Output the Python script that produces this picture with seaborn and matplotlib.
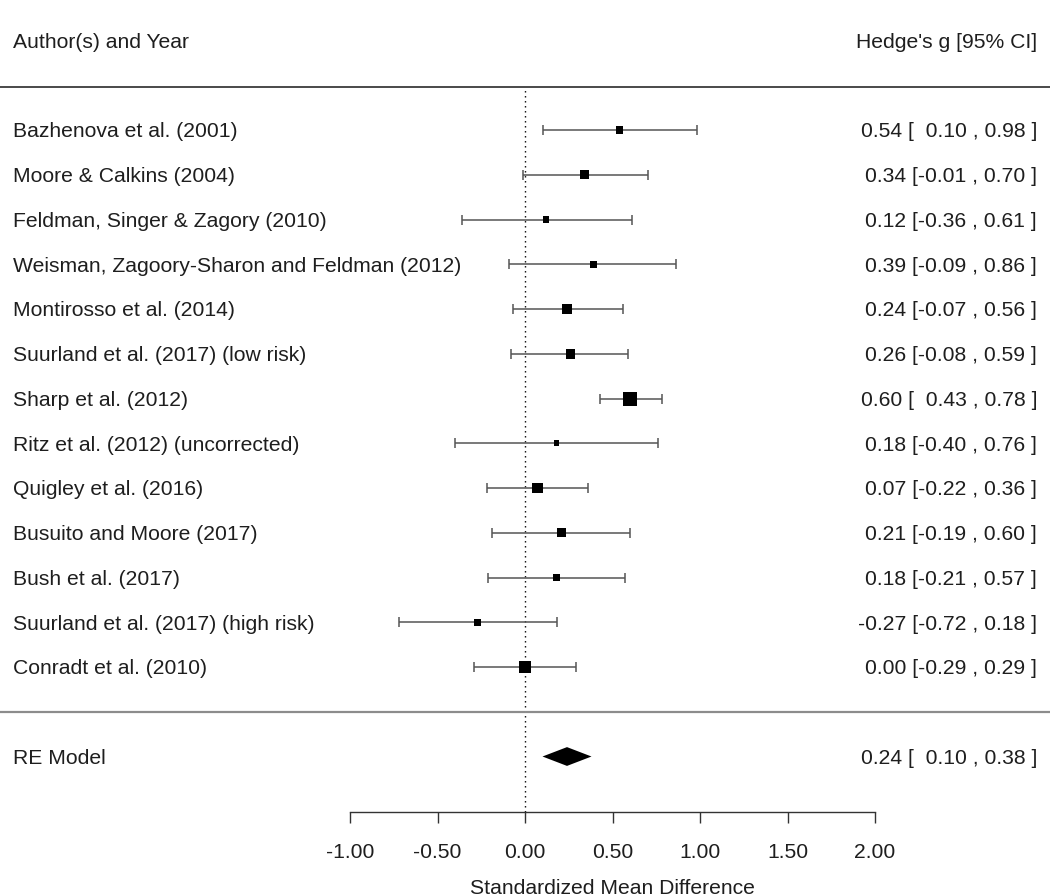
import matplotlib
matplotlib.use("Agg")
import matplotlib.pyplot as plt
import seaborn as sns
import numpy as np
import pandas as pd

# ---------------- data ----------------
studies = [
    "Bazhenova et al. (2001)",
    "Moore & Calkins (2004)",
    "Feldman, Singer & Zagory (2010)",
    "Weisman, Zagoory-Sharon and Feldman (2012)",
    "Montirosso et al. (2014)",
    "Suurland et al. (2017) (low risk)",
    "Sharp et al. (2012)",
    "Ritz et al. (2012) (uncorrected)",
    "Quigley et al. (2016)",
    "Busuito and Moore (2017)",
    "Bush et al. (2017)",
    "Suurland et al. (2017) (high risk)",
    "Conradt et al. (2010)",
]
yi = [0.54, 0.34, 0.12, 0.39, 0.24, 0.26, 0.60, 0.18, 0.07, 0.21, 0.18, -0.27, 0.00]
ci_lo = [0.10, -0.01, -0.36, -0.09, -0.07, -0.08, 0.43, -0.40, -0.22, -0.19, -0.21, -0.72, -0.29]
ci_hi = [0.98, 0.70, 0.61, 0.86, 0.56, 0.59, 0.78, 0.76, 0.36, 0.60, 0.57, 0.18, 0.29]
weights = [49, 64, 36, 36, 100, 81, 169, 25, 100, 64, 49, 36, 121]

re_label = "RE Model"
re_est, re_lo, re_hi = 0.24, 0.10, 0.38

xticks = [-1.0, -0.5, 0.0, 0.5, 1.0, 1.5, 2.0]
xtick_labels = ["-1.00", "-0.50", "0.00", "0.50", "1.00", "1.50", "2.00"]
header_left = "Author(s) and Year"
header_right = "Hedge's g [95% CI]"
xlabel = "Standardized Mean Difference"

# ---------------- style ----------------
sns.set_theme(style="white")
plt.rcParams["font.family"] = ["Liberation Sans", "DejaVu Sans"]
FS = 15.2
TXT = "#1e1e1e"

k = len(studies)
rows = np.arange(k, 0, -1)
df = pd.DataFrame({"study": studies, "yi": yi, "lo": ci_lo, "hi": ci_hi,
                   "w": weights, "row": rows})

fig = plt.figure(figsize=(10.5, 8.96), dpi=100)
ax = fig.add_axes([0, 0, 1, 1])
ax.set_xlim(-3.0, 3.0)
ax.set_ylim(-4.117, 15.905)

# confidence intervals
ax.errorbar(df["yi"], df["row"],
            xerr=[df["yi"] - df["lo"], df["hi"] - df["yi"]],
            fmt="none", ecolor="#555555", elinewidth=1.1, capsize=3.9,
            capthick=1.1, zorder=2)

# squares sized by weight
wmin, wmax = min(weights), max(weights)
smin, smax = (5.6 * 0.72) ** 2, (14.0 * 0.72) ** 2
sns.scatterplot(data=df, x="yi", y="row", size="w",
                sizes=(smin, smax), size_norm=(wmin, wmax),
                marker="s", color="black", linewidth=0, legend=False,
                ax=ax, zorder=3)

# summary diamond
h = 0.21
ax.fill([re_lo, re_est, re_hi, re_est], [-1, -1 + h, -1, -1 - h],
        color="black", zorder=3, lw=0)

# reference line at zero
axis_y = -2.24
ax.plot([0, 0], [axis_y, 13.96], color="black", lw=1.0,
        linestyle=(0, (1, 2.6)), zorder=1)

# separator lines
ax.axhline(13.96, color="#3a3a3a", lw=1.3, zorder=1)
ax.axhline(-0.01, color="#8c8c8c", lw=1.6, zorder=1)

# text columns
xl, xr = -2.926, 2.926
dy = -0.04
ax.text(xl, 15 + dy, header_left, ha="left", va="center", fontsize=FS, color=TXT)
ax.text(xr, 15 + dy, header_right, ha="right", va="center", fontsize=FS, color=TXT)


def fmt_ci(e, lo, hi):
    return f"{e:.2f} [{lo:5.2f} , {hi:.2f} ]".replace("[ ", "[  ")


for s, e, lo, hi, r in zip(studies, yi, ci_lo, ci_hi, rows):
    ax.text(xl, r + dy, s, ha="left", va="center", fontsize=FS, color=TXT)
    ax.text(xr, r + dy, fmt_ci(e, lo, hi), ha="right", va="center", fontsize=FS,
            color=TXT)

ax.text(xl, -1 + dy, re_label, ha="left", va="center", fontsize=FS, color=TXT)
ax.text(xr, -1 + dy, fmt_ci(re_est, re_lo, re_hi), ha="right", va="center",
        fontsize=FS, color=TXT)

# x axis
for sp in ["top", "right", "left"]:
    ax.spines[sp].set_visible(False)
ax.spines["bottom"].set_visible(True)
ax.spines["bottom"].set_position(("data", axis_y))
ax.spines["bottom"].set_bounds(-1.0, 2.0)
ax.spines["bottom"].set_color("#333333")
ax.spines["bottom"].set_linewidth(1.0)
ax.set_xticks(xticks)
ax.set_xticklabels(xtick_labels, fontsize=FS, color=TXT)
ax.tick_params(axis="x", direction="out", length=8, width=1.0,
               color="#333333", pad=14, bottom=True)
ax.set_yticks([])
ax.set_xlabel("")
ax.set_ylabel("")
ax.text(0.5, -3.94, xlabel, ha="center", va="center", fontsize=FS, color=TXT)

fig.savefig("out.png", dpi=100)
